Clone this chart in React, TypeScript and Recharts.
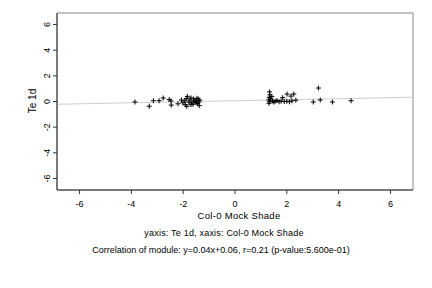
import React from 'react';
import { ScatterChart, Scatter, XAxis, YAxis, ReferenceLine, ReferenceArea } from 'recharts';

// Col-0 Mock Shade values (x) and Te 1d values (y)
const leftX = [-3.86, -3.31, -3.15, -2.93, -2.77, -2.54, -2.47, -2.46, -2.2, -2.07, -2.01, -1.94, -1.88, -1.84, -1.86, -1.78, -1.74, -1.7, -1.67, -1.62, -1.58, -1.54, -1.5, -1.47, -1.45, -1.42, -1.4, -1.38, -1.36, -1.6, -1.92, -1.7];
const leftY = [-0.04, -0.37, 0.06, 0.06, 0.27, 0.15, 0.04, -0.28, -0.18, 0.12, -0.1, 0.05, 0.22, 0.4, -0.38, -0.05, 0.12, -0.25, -0.12, -0.22, 0.02, 0.08, -0.08, 0.25, -0.15, 0.2, -0.05, -0.32, 0.1, 0.2, -0.25, 0.28];
const rightX = [1.33, 1.35, 1.32, 1.42, 1.3, 1.34, 1.31, 1.38, 1.45, 1.5, 1.55, 1.62, 1.7, 1.78, 1.84, 1.9, 2.0, 2.01, 2.1, 2.16, 2.2, 2.27, 2.35, 3.02, 3.22, 3.29, 3.76, 4.48];
const rightY = [0.75, 0.52, 0.33, 0.38, 0.12, -0.01, -0.14, 0.2, 0.05, -0.05, 0.02, 0.08, -0.02, 0.03, 0.3, 0.0, 0.02, 0.58, -0.02, 0.42, 0.05, 0.58, 0.1, -0.04, 1.05, 0.12, -0.04, 0.06];

const ticks = [-6, -4, -2, 0, 2, 4, 6];
const slope = 0.04;
const intercept = 0.06;
const xLim = 6.87;
const yLim = 6.9;

const points = [
  ...leftX.map((x, i) => ({ x, y: leftY[i] })),
  ...rightX.map((x, i) => ({ x, y: rightY[i] })),
];

const FONT = '"Liberation Sans", Arial, sans-serif';

const Plus = (props: any) => {
  const { cx, cy } = props;
  return (
    <g>
      <line x1={cx - 2.5} x2={cx + 2.5} y1={cy} y2={cy} stroke="#000" strokeWidth={1} />
      <line x1={cx} x2={cx} y1={cy - 2.5} y2={cy + 2.5} stroke="#000" strokeWidth={1} />
    </g>
  );
};

const XTick = (props: any) => {
  const { x, y, payload } = props;
  return (
    <text x={x} y={y + 13} textAnchor="middle" fontSize={9} fontFamily={FONT} fill="#000">
      {payload.value}
    </text>
  );
};

const YTick = (props: any) => {
  const { x, y, payload } = props;
  return (
    <text x={x - 6} y={y} textAnchor="middle" dominantBaseline="central" fontSize={9} fontFamily={FONT} fill="#000" transform={`rotate(-90 ${x - 6} ${y})`}>
      {payload.value}
    </text>
  );
};

const textStyle: React.CSSProperties = {
  position: 'absolute',
  fontFamily: FONT,
  color: '#000',
  whiteSpace: 'nowrap',
  lineHeight: 1,
};

export default function App() {
  return (
    <div style={{ position: 'absolute', left: 0, top: 0, width: 432, height: 288, background: '#fff' }}>
      <ScatterChart width={432} height={288} margin={{ top: 13, right: 19, bottom: 68, left: 17 }}>
        <XAxis
          type="number"
          dataKey="x"
          domain={[-xLim, xLim]}
          ticks={ticks}
          allowDataOverflow
          tickSize={4}
          tickMargin={0}
          height={30}
          stroke="#333"
          tick={<XTick />}
        />
        <YAxis
          type="number"
          dataKey="y"
          domain={[-yLim, yLim]}
          ticks={ticks}
          allowDataOverflow
          tickSize={4}
          tickMargin={0}
          width={40}
          stroke="#333"
          tick={<YTick />}
        />
        <ReferenceArea x1={-xLim} x2={xLim} y1={-yLim} y2={yLim} fill="none" stroke="#888" strokeWidth={1} />
        <ReferenceLine
          segment={[
            { x: -xLim, y: slope * -xLim + intercept },
            { x: xLim, y: slope * xLim + intercept },
          ]}
          stroke="#cfcfcf"
          strokeWidth={1}
        />
        <Scatter data={points} shape={<Plus />} isAnimationActive={false} />
      </ScatterChart>
      <div style={{ ...textStyle, fontSize: 10, left: 33, top: 101, transform: 'translate(-50%, -50%) rotate(-90deg)' }}>Te 1d</div>
      <div style={{ ...textStyle, fontSize: 9.5, left: 239, top: 216, letterSpacing: 0.3, transform: 'translate(-50%, -50%)' }}>Col-0 Mock Shade</div>
      <div style={{ ...textStyle, fontSize: 9, left: 224, top: 233, letterSpacing: 0.2, transform: 'translate(-50%, -50%)' }}>yaxis: Te 1d, xaxis: Col-0 Mock Shade</div>
      <div style={{ ...textStyle, fontSize: 9, left: 221, top: 250, transform: 'translate(-50%, -50%)' }}>Correlation of module: y=0.04x+0.06, r=0.21 (p-value:5.600e-01)</div>
    </div>
  );
}
